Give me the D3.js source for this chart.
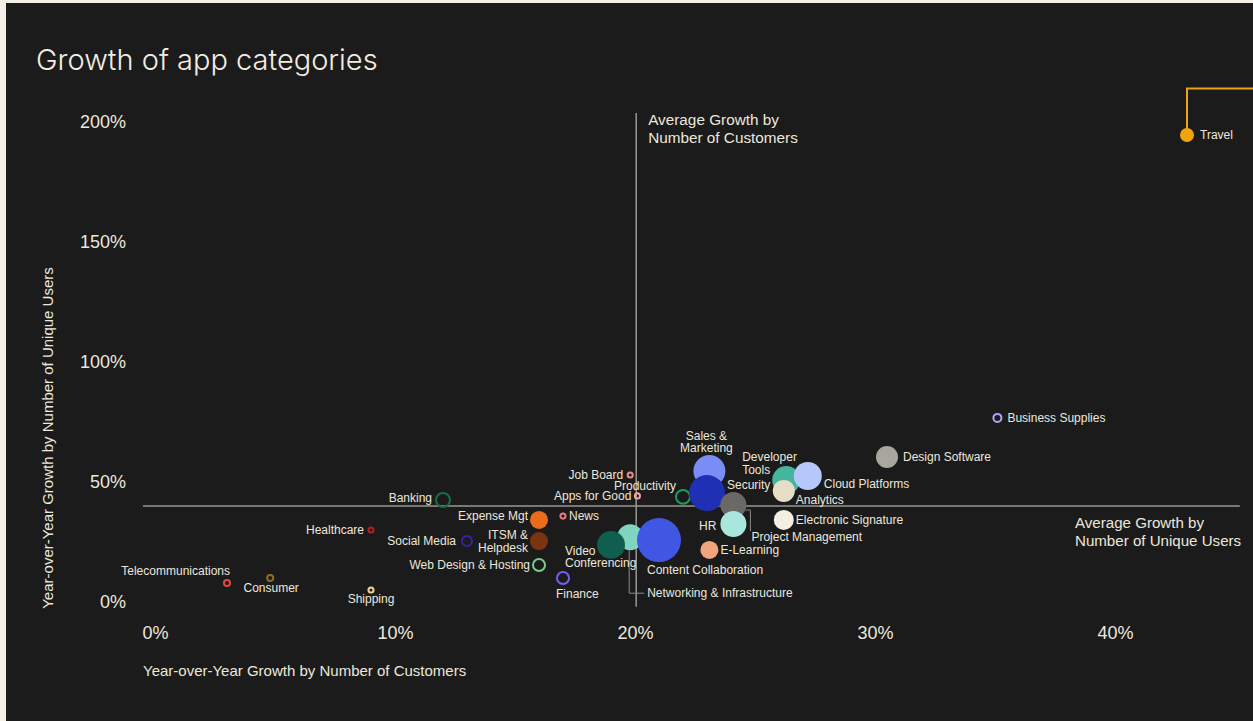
<!DOCTYPE html>
<html>
<head>
<meta charset="utf-8">
<script src="https://cdn.jsdelivr.net/npm/d3@7"></script>
<style>
  html, body { margin: 0; padding: 0; background: #f5f0e6; }
  svg { display: block; }
  text { font-family: "Liberation Sans", Arial, sans-serif; }
</style>
</head>
<body>
<svg id="chart"></svg>
<script>
let w = 1253;
let h = 721;

// categories, in drawing order (later ones sit on top)
let categories = [
  "Telecommunications", "Consumer", "Healthcare", "Shipping", "Banking",
  "Social Media", "Expense Mgt", "ITSM & Helpdesk", "Web Design & Hosting",
  "Finance", "News", "Job Board", "Apps for Good", "Networking & Infrastructure",
  "Video Conferencing", "Content Collaboration", "Productivity",
  "Sales & Marketing", "Security", "Project Management", "HR", "E-Learning",
  "Developer Tools", "Analytics", "Electronic Signature", "Cloud Platforms",
  "Design Software", "Business Supplies", "Travel"
];
// year-over-year growth by number of customers
let customerGrowth = [
  0.030, 0.048, 0.090, 0.090, 0.120,
  0.130, 0.160, 0.160, 0.160,
  0.170, 0.170, 0.198, 0.201, 0.198,
  0.190, 0.210, 0.220,
  0.231, 0.230, 0.241, 0.241, 0.231,
  0.263, 0.262, 0.262, 0.272,
  0.305, 0.351, 0.430
];
// year-over-year growth by number of unique users
let userGrowth = [
  0.079, 0.100, 0.300, 0.050, 0.425,
  0.254, 0.342, 0.254, 0.154,
  0.100, 0.358, 0.529, 0.442, 0.270,
  0.238, 0.258, 0.438,
  0.546, 0.454, 0.404, 0.325, 0.217,
  0.508, 0.463, 0.342, 0.525,
  0.604, 0.767, 1.946
];
// bubble size (relative number of customers)
let bubbleSize = [
  17, 17, 13, 13, 66,
  37, 84, 84, 51,
  51, 13, 13, 13, 175,
  202, 500, 66,
  264, 335, 175, 175, 84,
  202, 125, 103, 202,
  125, 26, 51
];
let xTicks = [0, 0.1, 0.2, 0.3, 0.4];
let yTicks = [0, 0.5, 1, 1.5, 2];
let avgCustomerGrowth = 0.2005;
let avgUserGrowth = 0.40;

// styling: colour and whether the bubble is drawn as a ring
let colors = {
  "Telecommunications": ["#e4463f", true], "Consumer": ["#8d6e20", true],
  "Healthcare": ["#b3211c", true], "Shipping": ["#f4d48e", true],
  "Banking": ["#1e6c46", true], "Social Media": ["#3b20aa", true],
  "Expense Mgt": ["#ec6c1e", false], "ITSM & Helpdesk": ["#7b3411", false],
  "Web Design & Hosting": ["#7bc98b", true], "Finance": ["#7b5cf3", true],
  "News": ["#e87c7c", true], "Job Board": ["#f08a8a", true],
  "Apps for Good": ["#f4a3a3", true], "Networking & Infrastructure": ["#80d5c2", false],
  "Video Conferencing": ["#0f5e4e", false], "Content Collaboration": ["#4057e4", false],
  "Productivity": ["#1f9e5a", true], "Sales & Marketing": ["#7a8cf6", false],
  "Security": ["#1f30b5", false], "Project Management": ["#6b6965", false],
  "HR": ["#a9e6dc", false], "E-Learning": ["#f2a47c", false],
  "Developer Tools": ["#46b59e", false], "Analytics": ["#e7dcc5", false],
  "Electronic Signature": ["#f3efe2", false], "Cloud Platforms": ["#b6c7fc", false],
  "Design Software": ["#a9a79d", false], "Business Supplies": ["#b6a2f5", true],
  "Travel": ["#f2a20a", false]
};

// label placement: dx, dy (to first line centre), anchor, lines
let labelPos = {
  "Telecommunications": [3, -12, "end"],
  "Consumer": [1, 10, "middle"],
  "Healthcare": [-7, 0, "end"],
  "Shipping": [0, 9, "middle"],
  "Banking": [-11, -2, "end"],
  "Social Media": [-11, 0, "end"],
  "Expense Mgt": [-11, -4, "end"],
  "ITSM & Helpdesk": [-11, -6, "end", ["ITSM &", "Helpdesk"]],
  "Web Design & Hosting": [-9, 0, "end"],
  "Finance": [-7, 16, "start"],
  "News": [6, 0, "start"],
  "Job Board": [-7, 0, "end"],
  "Apps for Good": [-6, 0, "end"],
  "Networking & Infrastructure": [17, 56, "start"],
  "Video Conferencing": [-46, 6, "start", ["Video", "Conferencing"]],
  "Content Collaboration": [-12, 30, "start"],
  "Productivity": [-7, -11, "end"],
  "Sales & Marketing": [-3, -35, "middle", ["Sales &", "Marketing"]],
  "Security": [20, -8, "start"],
  "Project Management": [18, 32, "start"],
  "HR": [-17, 2, "end"],
  "E-Learning": [11, 0, "start"],
  "Developer Tools": [-44, -23, "start", ["Developer", "Tools"]],
  "Analytics": [12, 9, "start"],
  "Electronic Signature": [12, 0, "start"],
  "Cloud Platforms": [16, 8, "start"],
  "Design Software": [16, 0, "start"],
  "Business Supplies": [10, 0, "start"],
  "Travel": [13, 0, "start"]
};

let data = categories.map(function (c, i) {
  return { name: c, x: customerGrowth[i], y: userGrowth[i], size: bubbleSize[i] };
});

let svg = d3.select("#chart").attr("width", w).attr("height", h);

svg.append("rect")
  .attr("x", 6).attr("y", 3)
  .attr("width", w - 6).attr("height", h - 3)
  .attr("fill", "#1b1b1b");

svg.append("text")
  .attr("x", 36).attr("y", 70)
  .attr("fill", "#f2ede2")
  .attr("font-size", 29)
  .style("font-family", "Inter, 'Liberation Sans', sans-serif")
  .style("font-weight", 300)
  .text("Growth of app categories");

let xScale = d3.scaleLinear().domain([0, 0.45]).range([155, 1235]);
let yScale = d3.scaleLinear().domain([0, 2]).range([602, 122]);
let rScale = d3.scaleSqrt().domain([0, 500]).range([0, 22]);

// axes
let xAxis = svg.append("g")
  .attr("transform", "translate(0,626)")
  .call(d3.axisBottom(xScale).tickValues(xTicks).tickFormat(d3.format(".0%")).tickSize(0).tickPadding(0));
let yAxis = svg.append("g")
  .attr("transform", "translate(126,0)")
  .call(d3.axisLeft(yScale).tickValues(yTicks).tickFormat(d3.format(".0%")).tickSize(0).tickPadding(0));
[xAxis, yAxis].forEach(function (a) {
  a.select(".domain").remove();
  a.selectAll("text")
    .attr("fill", "#ece7dc")
    .attr("font-size", 18)
    .style("font-family", "'Liberation Sans', Arial, sans-serif");
});

svg.append("text")
  .attr("x", 143).attr("y", 676)
  .attr("fill", "#ece7dc").attr("font-size", 15)
  .text("Year-over-Year Growth by Number of Customers");

svg.append("text")
  .attr("transform", "translate(53,438) rotate(-90)")
  .attr("text-anchor", "middle")
  .attr("fill", "#ece7dc").attr("font-size", 15)
  .text("Year-over-Year Growth by Number of Unique Users");

// average lines
svg.append("line")
  .attr("x1", xScale(avgCustomerGrowth)).attr("x2", xScale(avgCustomerGrowth))
  .attr("y1", yScale(2.0375)).attr("y2", yScale(-0.02))
  .attr("stroke", "#9a9893").attr("stroke-width", 1.5);
svg.append("line")
  .attr("x1", xScale(-0.005)).attr("x2", xScale(0.452))
  .attr("y1", yScale(avgUserGrowth)).attr("y2", yScale(avgUserGrowth))
  .attr("stroke", "#9a9893").attr("stroke-width", 1.5);

let avgText1 = svg.append("text")
  .attr("x", xScale(avgCustomerGrowth) + 12).attr("y", 125)
  .attr("fill", "#ece7dc").attr("font-size", 15.3);
avgText1.append("tspan").attr("x", xScale(avgCustomerGrowth) + 12).text("Average Growth by");
avgText1.append("tspan").attr("x", xScale(avgCustomerGrowth) + 12).attr("dy", 18).text("Number of Customers");

let avgText2 = svg.append("text")
  .attr("x", 1075).attr("y", yScale(avgUserGrowth) + 22)
  .attr("fill", "#ece7dc").attr("font-size", 15.1);
avgText2.append("tspan").attr("x", 1075).text("Average Growth by");
avgText2.append("tspan").attr("x", 1075).attr("dy", 18).text("Number of Unique Users");

// leader lines
let byName = {};
data.forEach(function (d) { byName[d.name] = d; });

let net = byName["Networking & Infrastructure"];
let nx = xScale(net.x) - 1, ny = yScale(net.y);
svg.append("path")
  .attr("d", "M" + nx + "," + (ny + 13) + "V" + (ny + 56) + "H" + (nx + 15))
  .attr("fill", "none").attr("stroke", "#8d8b86").attr("stroke-width", 1);

let pm = byName["Project Management"];
let px = xScale(pm.x), py = yScale(pm.y);
svg.append("path")
  .attr("d", "M" + (px + 12) + "," + (py + 5) + "H" + (px + 17) + "V" + (py + 26))
  .attr("fill", "none").attr("stroke", "#8d8b86").attr("stroke-width", 1);

let tr = byName["Travel"];
svg.append("path")
  .attr("d", "M" + xScale(tr.x) + "," + yScale(tr.y) + "V" + yScale(2.14) + "H" + w)
  .attr("fill", "none").attr("stroke", colors["Travel"][0]).attr("stroke-width", 2);

// bubbles
svg.selectAll(".bubble")
  .data(data)
  .enter()
  .append("circle")
  .attr("class", "bubble")
  .attr("cx", function (d) { return xScale(d.x); })
  .attr("cy", function (d) { return yScale(d.y); })
  .attr("r", function (d) {
    let r = rScale(d.size);
    return colors[d.name][1] ? r - 1 : r;
  })
  .attr("fill", function (d) { return colors[d.name][1] ? "none" : colors[d.name][0]; })
  .attr("stroke", function (d) { return colors[d.name][1] ? colors[d.name][0] : "none"; })
  .attr("stroke-width", 2);

// labels
let labels = svg.selectAll(".lbl")
  .data(data)
  .enter()
  .append("text")
  .attr("class", "lbl")
  .attr("fill", "#ece7dc")
  .attr("font-size", 12)
  .attr("text-anchor", function (d) { return labelPos[d.name][2]; })
  .attr("x", function (d) { return xScale(d.x) + labelPos[d.name][0]; })
  .attr("y", function (d) { return yScale(d.y) + labelPos[d.name][1] + 4; });

labels.each(function (d) {
  let p = labelPos[d.name];
  let lines = p[3] || [d.name];
  let t = d3.select(this);
  lines.forEach(function (l, i) {
    t.append("tspan")
      .attr("x", xScale(d.x) + p[0])
      .attr("dy", i === 0 ? 0 : 12.5)
      .text(l);
  });
});
</script>
</body>
</html>
